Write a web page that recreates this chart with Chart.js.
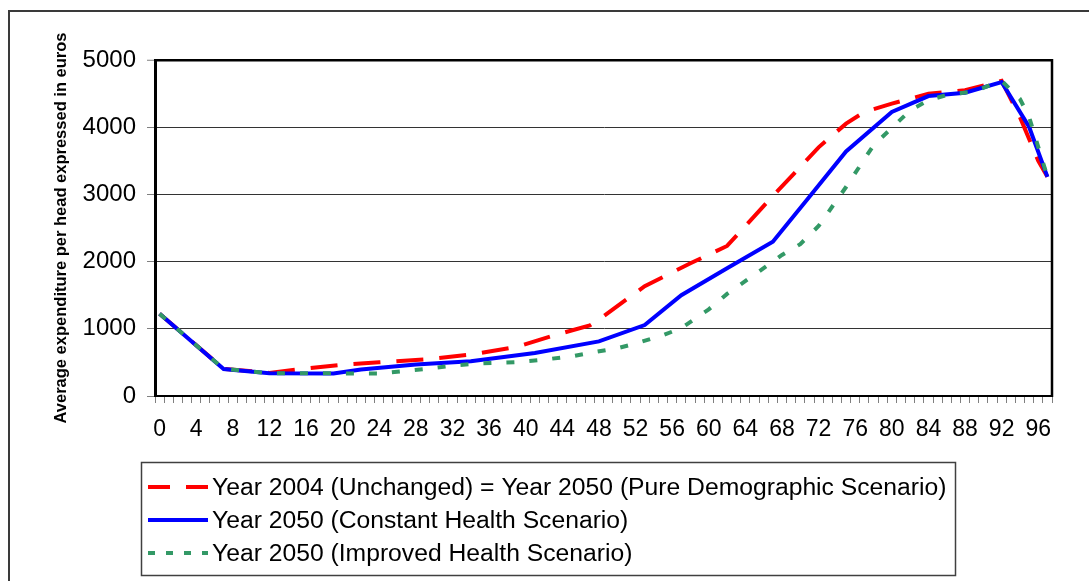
<!DOCTYPE html>
<html><head><meta charset="utf-8">
<script src="https://cdn.jsdelivr.net/npm/chart.js@4.4.1/dist/chart.umd.min.js"></script>
<style>
html,body{margin:0;padding:0;background:#fff;overflow:hidden;width:1089px;height:581px;}
#frame{position:absolute;left:8px;top:10px;width:1200px;height:700px;border-left:2px solid #3a3a3a;border-top:2px solid #3a3a3a;}
#c{position:absolute;left:0;top:0;}
</style></head><body>
<div id="frame"></div>
<canvas id="c" width="1089" height="581"></canvas>
<script>
// Categories: single years of age
const ageLabels = ['0','1','2','3','4','5','6','7','8','9','10','11','12','13','14','15','16','17','18','19',
 '20','21','22','23','24','25','26','27','28','29','30','31','32','33','34','35','36','37','38','39',
 '40','41','42','43','44','45','46','47','48','49','50','51','52','53','54','55','56','57','58','59',
 '60','61','62','63','64','65','66','67','68','69','70','71','72','73','74','75','76','77','78','79',
 '80','81','82','83','84','85','86','87','88','89','90','91','92','93','94','95','96','97'];

const seriesNames = [
  'Year 2004 (Unchanged) = Year 2050 (Pure Demographic Scenario)',
  'Year 2050 (Constant Health Scenario)',
  'Year 2050 (Improved Health Scenario)'
];
const yTitle = 'Average expenditure per head expressed in euros';
const yTicks = [0, 1000, 2000, 3000, 4000, 5000];

// Values at the ages where the lines bend
const pureAges   = [0, 7, 12, 15, 20, 24, 29, 34, 39, 43, 47, 48, 53, 58, 62, 67, 72, 75, 77, 80, 84, 88, 92, 94, 96, 97];
const pureValues = [1224, 404, 344, 393, 467, 502, 545, 616, 730, 898, 1050, 1135, 1635, 1975, 2233, 2975, 3700, 4053, 4226, 4350, 4499, 4550, 4690, 4150, 3500, 3261];

const constAges   = [0, 7, 12, 19, 22, 28, 34, 41, 48, 53, 57, 62, 67, 71, 75, 80, 84, 88, 92, 95, 97];
const constValues = [1224, 402, 340, 335, 393, 467, 516, 641, 813, 1055, 1500, 1902, 2297, 2965, 3640, 4226, 4463, 4513, 4670, 4003, 3261];

const improvedAges   = [0, 7, 12, 24, 29, 32, 35, 39, 42, 45, 47, 50, 52, 55, 57, 60, 62, 66, 68, 70, 72, 75, 78, 80, 82, 84, 86, 89, 92, 94, 95, 97];
const improvedValues = [1224, 404, 340, 335, 403, 452, 485, 505, 542, 590, 641, 710, 780, 905, 1010, 1290, 1520, 1902, 2099, 2260, 2530, 3110, 3731, 3990, 4250, 4400, 4480, 4533, 4690, 4420, 4150, 3261];

function toData(ages, values) {
  const out = ageLabels.map(() => null);
  ages.forEach((a, i) => { out[a] = values[i]; });
  return out;
}

const FONT = '"Liberation Sans", Arial, sans-serif';
const legendDash = [[22, 16], [], [7, 11]];

const boxLegend = {
  id: 'boxLegend',
  afterDraw(chart) {
    const c = chart.ctx, a = chart.chartArea;
    c.save();
    // right border of plot area
    c.strokeStyle = '#000'; c.lineWidth = 2.5; c.setLineDash([]);
    c.beginPath(); c.moveTo(a.right, a.top - 1); c.lineTo(a.right, a.bottom + 1); c.stroke();
    // legend box
    c.strokeStyle = '#404040'; c.lineWidth = 1.5;
    c.strokeRect(141.5, 462.5, 814, 113);
    chart.data.datasets.forEach((ds, i) => {
      const y = 487 + i * 33;
      c.beginPath();
      c.setLineDash(legendDash[i]);
      c.lineCap = 'butt';
      c.strokeStyle = ds.borderColor; c.lineWidth = ds.borderWidth;
      c.moveTo(148, y); c.lineTo(208, y); c.stroke();
      c.setLineDash([]);
      c.fillStyle = '#000'; c.font = '24.7px ' + FONT; c.textBaseline = 'middle'; c.textAlign = 'left';
      c.fillText(ds.label, 212, y + 1);
    });
    c.restore();
  }
};

new Chart(document.getElementById('c'), {
  type: 'line',
  data: {
    labels: ageLabels,
    datasets: [
      { label: seriesNames[0], data: toData(pureAges, pureValues), borderColor: '#FF0000', borderWidth: 4, borderDash: [27, 16], order: 3 },
      { label: seriesNames[1], data: toData(constAges, constValues), borderColor: '#0000FF', borderWidth: 4, order: 2 },
      { label: seriesNames[2], data: toData(improvedAges, improvedValues), borderColor: '#339966', borderWidth: 4, borderDash: [8, 15], order: 1 }
    ]
  },
  options: {
    responsive: false, animation: false, devicePixelRatio: 1,
    spanGaps: true,
    elements: { point: { radius: 0 }, line: { tension: 0, fill: false, borderCapStyle: 'butt' } },
    layout: { padding: { left: 52, top: 60, right: 37, bottom: 125 } },
    plugins: { legend: { display: false }, tooltip: { enabled: false } },
    scales: {
      x: {
        type: 'category', offset: true,
        grid: { offset: true, drawOnChartArea: false, drawTicks: true, tickLength: 7, color: '#808080', lineWidth: 1 },
        border: { display: true, color: '#000', width: 2 },
        ticks: {
          autoSkip: false, maxRotation: 0, minRotation: 0, padding: 13, color: '#000',
          font: { family: FONT, size: 23 },
          callback: (v, i) => (i % 4 === 0 ? ageLabels[i] : '')
        },
        afterFit: s => { s.height = 60; }
      },
      y: {
        min: yTicks[0], max: yTicks[yTicks.length - 1],
        afterBuildTicks: s => { s.ticks = yTicks.map(v => ({ value: v })); },
        ticks: { padding: 11, color: '#000', font: { family: FONT, size: 24 }, callback: v => String(v) },
        grid: {
          color: c => (c.tick && c.tick.value === 5000 ? '#000' : '#333'),
          lineWidth: c => (c.tick && c.tick.value === 5000 ? 2.5 : 1),
          tickLength: 8, tickColor: '#808080', tickWidth: 1
        },
        border: { display: true, color: '#000', width: 3 },
        title: { display: true, text: yTitle, color: '#000', padding: 0, font: { family: FONT, size: 16.5, weight: 'bold' } },
        afterFit: s => { s.width = 103; }
      }
    }
  },
  plugins: [boxLegend]
});
</script>
</body></html>
